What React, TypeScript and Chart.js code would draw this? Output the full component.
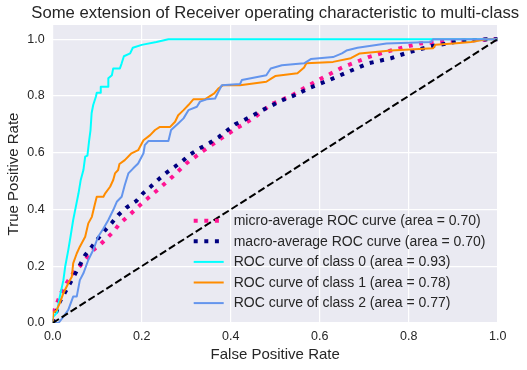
import React, { useEffect, useRef } from "react";
import { Chart, registerables } from "chart.js";

Chart.register(...registerables);

const TITLE = "Some extension of Receiver operating characteristic to multi-class";
const X_LABEL = "False Positive Rate";
const Y_LABEL = "True Positive Rate";

const MICRO_FPR = [0, 0.002, 0.02, 0.031, 0.046, 0.061, 0.091, 0.106, 0.121, 0.136, 0.151, 0.17, 0.2, 0.235, 0.269, 0.3, 0.338, 0.376, 0.413, 0.45, 0.49, 0.535, 0.59, 0.65, 0.71, 0.76, 0.825, 0.87, 0.92, 1.0];
const MICRO_TPR = [0, 0.04, 0.11, 0.14, 0.176, 0.2, 0.257, 0.275, 0.298, 0.321, 0.351, 0.377, 0.421, 0.468, 0.515, 0.562, 0.606, 0.648, 0.686, 0.72, 0.77, 0.8, 0.85, 0.9, 0.937, 0.96, 0.985, 0.99, 0.995, 1.0];

const MACRO_FPR = [0, 0.016, 0.039, 0.061, 0.073, 0.088, 0.102, 0.118, 0.133, 0.147, 0.166, 0.188, 0.203, 0.22, 0.237, 0.256, 0.274, 0.294, 0.31, 0.33, 0.353, 0.373, 0.39, 0.41, 0.43, 0.475, 0.516, 0.54, 0.58, 0.62, 0.667, 0.71, 0.76, 0.8, 0.85, 0.915, 0.975, 1.0];
const MACRO_TPR = [0, 0.075, 0.14, 0.204, 0.239, 0.269, 0.298, 0.327, 0.353, 0.38, 0.407, 0.43, 0.457, 0.48, 0.505, 0.53, 0.55, 0.574, 0.595, 0.615, 0.635, 0.655, 0.676, 0.7, 0.715, 0.753, 0.785, 0.8, 0.83, 0.855, 0.887, 0.915, 0.933, 0.954, 0.975, 0.993, 1.0, 1.0];

const C0_FPR = [0, 0, 0.009, 0.016, 0.024, 0.028, 0.035, 0.04, 0.046, 0.052, 0.058, 0.063, 0.069, 0.073, 0.078, 0.082, 0.085, 0.0875, 0.091, 0.097, 0.099, 0.108, 0.108, 0.125, 0.125, 0.133, 0.136, 0.151, 0.155, 0.16, 0.174, 0.18, 0.2, 0.233, 0.26, 1.0];
const C0_TPR = [0, 0.02, 0.035, 0.093, 0.151, 0.198, 0.257, 0.304, 0.363, 0.41, 0.457, 0.504, 0.539, 0.586, 0.59, 0.644, 0.68, 0.74, 0.768, 0.797, 0.811, 0.811, 0.832, 0.832, 0.862, 0.873, 0.897, 0.897, 0.915, 0.94, 0.95, 0.97, 0.98, 0.99, 1.0, 1.0];

const C1_FPR = [0, 0.001, 0.009, 0.016, 0.024, 0.035, 0.043, 0.046, 0.054, 0.061, 0.073, 0.08, 0.088, 0.095, 0.099, 0.114, 0.118, 0.129, 0.136, 0.14, 0.147, 0.15, 0.162, 0.177, 0.192, 0.204, 0.219, 0.23, 0.241, 0.264, 0.275, 0.282, 0.294, 0.305, 0.316, 0.342, 0.363, 0.372, 0.383, 0.421, 0.48, 0.49, 0.5, 0.55, 0.565, 0.57, 0.63, 0.67, 0.69, 0.76, 0.855, 0.86, 0.9, 0.94, 0.975, 1.0];
const C1_TPR = [0, 0.035, 0.046, 0.07, 0.105, 0.14, 0.163, 0.21, 0.245, 0.269, 0.304, 0.351, 0.374, 0.42, 0.445, 0.445, 0.457, 0.48, 0.504, 0.527, 0.539, 0.56, 0.574, 0.598, 0.609, 0.644, 0.662, 0.68, 0.691, 0.691, 0.709, 0.732, 0.75, 0.768, 0.788, 0.788, 0.809, 0.826, 0.838, 0.838, 0.85, 0.86, 0.87, 0.88, 0.9, 0.915, 0.92, 0.933, 0.95, 0.96, 0.968, 0.98, 0.985, 0.99, 1.0, 1.0];

const C2_FPR = [0, 0.013, 0.024, 0.035, 0.046, 0.054, 0.061, 0.069, 0.08, 0.091, 0.102, 0.114, 0.125, 0.136, 0.144, 0.155, 0.162, 0.17, 0.181, 0.192, 0.204, 0.207, 0.215, 0.26, 0.266, 0.282, 0.294, 0.305, 0.324, 0.331, 0.346, 0.365, 0.372, 0.38, 0.421, 0.425, 0.48, 0.49, 0.515, 0.565, 0.58, 0.63, 0.65, 0.66, 0.685, 0.75, 0.85, 0.855, 1.0];
const C2_TPR = [0, 0, 0.022, 0.046, 0.093, 0.093, 0.151, 0.175, 0.222, 0.257, 0.304, 0.333, 0.363, 0.398, 0.427, 0.445, 0.486, 0.527, 0.545, 0.562, 0.598, 0.627, 0.641, 0.641, 0.68, 0.703, 0.721, 0.75, 0.762, 0.78, 0.788, 0.791, 0.814, 0.838, 0.842, 0.856, 0.873, 0.897, 0.908, 0.915, 0.93, 0.937, 0.95, 0.96, 0.97, 0.985, 0.99, 1.0, 1.0];

const DIAG_FPR = [0, 1];
const DIAG_TPR = [0, 1];

const LABELS = [
  "micro-average ROC curve (area = 0.70)",
  "macro-average ROC curve (area = 0.70)",
  "ROC curve of class 0 (area = 0.93)",
  "ROC curve of class 1 (area = 0.78)",
  "ROC curve of class 2 (area = 0.77)",
];

const FONT = "'Liberation Sans', Arial, sans-serif";
const TEXT_COLOR = "#262626";

const pts = (xs: number[], ys: number[]) => xs.map((x, i) => ({ x, y: ys[i] }));

const SERIES = [
  { label: LABELS[0], data: pts(MICRO_FPR, MICRO_TPR), color: "#FF1493", width: 4, dash: [4, 6.6] },
  { label: LABELS[1], data: pts(MACRO_FPR, MACRO_TPR), color: "#000080", width: 4, dash: [4, 6.6] },
  { label: LABELS[2], data: pts(C0_FPR, C0_TPR), color: "#00FFFF", width: 2, dash: [] as number[] },
  { label: LABELS[3], data: pts(C1_FPR, C1_TPR), color: "#FF8C00", width: 2, dash: [] as number[] },
  { label: LABELS[4], data: pts(C2_FPR, C2_TPR), color: "#6495ED", width: 2, dash: [] as number[] },
  { label: "", data: pts(DIAG_FPR, DIAG_TPR), color: "#000000", width: 2, dash: [7.4, 3.2] },
];

const decor = {
  id: "decor",
  beforeDraw(chart: any) {
    const { ctx, chartArea: a } = chart;
    ctx.save();
    ctx.fillStyle = "#EAEAF2";
    ctx.fillRect(a.left, a.top, a.right - a.left, a.bottom - a.top);
    ctx.restore();
  },
  afterDraw(chart: any) {
    const { ctx, chartArea: a } = chart;
    ctx.save();
    ctx.fillStyle = TEXT_COLOR;
    ctx.font = `16.7px ${FONT}`;
    ctx.textAlign = "center";
    ctx.textBaseline = "middle";
    ctx.fillText(TITLE, (a.left + a.right) / 2, a.top - 12);
    ctx.font = `15px ${FONT}`;
    ctx.fillText(X_LABEL, (a.left + a.right) / 2, a.bottom + 32);
    ctx.save();
    ctx.translate(14, (a.top + a.bottom) / 2);
    ctx.rotate(-Math.PI / 2);
    ctx.fillText(Y_LABEL, 0, 0);
    ctx.restore();
    const lx0 = a.left + 141;
    const ly0 = a.top + 195.7;
    const rowH = 20.6;
    ctx.font = `14px ${FONT}`;
    ctx.textAlign = "left";
    for (let i = 0; i < 5; i++) {
      const s = SERIES[i];
      const y = ly0 + i * rowH;
      ctx.beginPath();
      ctx.strokeStyle = s.color;
      ctx.lineWidth = s.width;
      ctx.setLineDash(s.dash);
      ctx.lineCap = "butt";
      ctx.moveTo(lx0, y);
      ctx.lineTo(lx0 + 30, y);
      ctx.stroke();
      ctx.setLineDash([]);
      ctx.fillStyle = TEXT_COLOR;
      ctx.fillText(s.label, lx0 + 40, y + 0.5);
    }
    ctx.restore();
  },
};

export default function App() {
  const ref = useRef<HTMLCanvasElement>(null);
  useEffect(() => {
    document.body.style.margin = "0";
    const n = SERIES.length;
    const chart = new Chart(ref.current!, {
      type: "line",
      data: {
        datasets: SERIES.map((s, i) => ({
          label: s.label,
          data: s.data,
          borderColor: s.color,
          borderWidth: s.width,
          borderDash: s.dash,
          borderCapStyle: "butt",
          borderJoinStyle: s.dash.length ? "miter" : "round",
          pointRadius: 0,
          tension: 0,
          fill: false,
          order: n - i,
        })),
      },
      options: {
        animation: false,
        responsive: false,
        layout: { padding: { top: 25, right: 29.3, left: 0, bottom: 0 } },
        plugins: { legend: { display: false }, title: { display: false }, tooltip: { enabled: false } },
        scales: {
          x: {
            type: "linear",
            min: 0,
            max: 1,
            afterFit: (s: any) => { s.height = 47; },
            border: { display: false },
            grid: { color: "#ffffff", lineWidth: 1.2, drawTicks: false },
            ticks: {
              stepSize: 0.2,
              includeBounds: false,
              padding: 6,
              color: TEXT_COLOR,
              font: { family: FONT, size: 12.5 },
              maxRotation: 0,
              callback: (v: any) => Number(v).toFixed(1),
            },
          },
          y: {
            type: "linear",
            min: 0,
            max: 1.05,
            afterFit: (s: any) => { s.width = 52.7; },
            border: { display: false },
            grid: { color: "#ffffff", lineWidth: 1.2, drawTicks: false },
            ticks: {
              stepSize: 0.2,
              includeBounds: false,
              padding: 8,
              color: TEXT_COLOR,
              font: { family: FONT, size: 12.5 },
              callback: (v: any) => Number(v).toFixed(1),
            },
          },
        },
      },
      plugins: [decor],
    } as any);
    return () => chart.destroy();
  }, []);
  return (
    <div style={{ width: 527, height: 370 }}>
      <canvas ref={ref} width={527} height={370} style={{ display: "block" }} />
    </div>
  );
}
